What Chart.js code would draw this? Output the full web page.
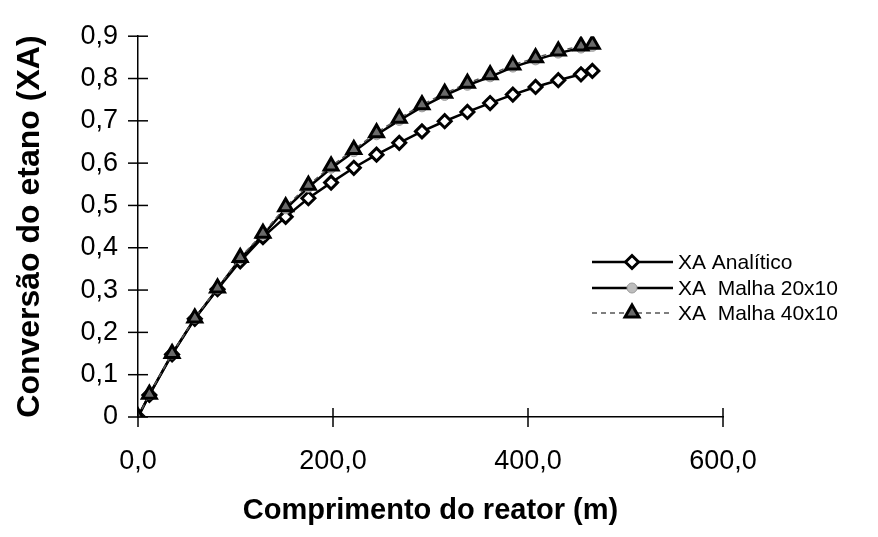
<!DOCTYPE html>
<html>
<head>
<meta charset="utf-8">
<script src="https://cdn.jsdelivr.net/npm/chart.js@4/dist/chart.umd.min.js"></script>
<style>
  html, body { margin: 0; padding: 0; background: #fff; }
  #wrap { width: 878px; height: 537px; position: relative; }
</style>
</head>
<body>
<div id="wrap"><canvas id="ConversaoChart"></canvas></div>
<script>
// comprimento do reator (m)
var Comprimento = [0, 11.65, 34.95, 58.25, 81.55, 104.85, 128.15, 151.45, 174.75, 198.05, 221.35,
    244.65, 267.95, 291.25, 314.55, 337.85, 361.15, 384.45, 407.75, 431.05, 454.35, 466];
var XA_Analitico = [0, 0.052, 0.148, 0.232, 0.302, 0.368, 0.425, 0.473, 0.517, 0.554, 0.589,
    0.620, 0.648, 0.675, 0.699, 0.721, 0.742, 0.762, 0.780, 0.796, 0.810, 0.818];
var XA_Malha20 = [0, 0.053, 0.149, 0.233, 0.303, 0.374, 0.430, 0.492, 0.543, 0.588, 0.627,
    0.667, 0.701, 0.733, 0.760, 0.784, 0.804, 0.827, 0.844, 0.860, 0.872, 0.876];
var XA_Malha40 = [0, 0.054, 0.150, 0.234, 0.305, 0.377, 0.434, 0.497, 0.548, 0.593, 0.632,
    0.672, 0.706, 0.738, 0.765, 0.789, 0.809, 0.832, 0.849, 0.865, 0.877, 0.881];
var XTicks = [0, 200, 400, 600];
var YTicks = [0, 0.1, 0.2, 0.3, 0.4, 0.5, 0.6, 0.7, 0.8, 0.9];

var FONT = "'Liberation Sans', Arial, sans-serif";

function pontos(ys) {
    return ys.map(function (y, i) { return { x: Comprimento[i], y: y }; });
}
function virgula(v, casas) {
    return v.toFixed(casas).replace('.', ',');
}

// ticks that cross the axis line, like the original
var crossTicks = {
    id: 'crossTicks',
    afterDatasetsDraw: function (chart) {
        var ctx = chart.ctx, xs = chart.scales.x, ys = chart.scales.y;
        var x0 = xs.getPixelForValue(0), y0 = ys.getPixelForValue(0);
        ctx.save();
        ctx.strokeStyle = '#000';
        ctx.lineWidth = 1.5;
        YTicks.forEach(function (v) {
            var p = ys.getPixelForValue(v);
            ctx.beginPath(); ctx.moveTo(x0 - 10, p); ctx.lineTo(x0 + 10, p); ctx.stroke();
        });
        XTicks.forEach(function (v) {
            var p = xs.getPixelForValue(v);
            ctx.beginPath(); ctx.moveTo(p, y0 - 9); ctx.lineTo(p, y0 + 10); ctx.stroke();
        });
        ctx.restore();
    }
};

// legend: line - marker - line, then text
var legendaLinha = {
    id: 'legendaLinha',
    afterDraw: function (chart) {
        var ctx = chart.ctx;
        var rows = [262, 288, 313];
        chart.data.datasets.forEach(function (ds, i) {
            var y = rows[i];
            ctx.save();
            ctx.strokeStyle = ds.borderColor;
            ctx.lineWidth = ds.borderWidth;
            ctx.setLineDash(ds.borderDash || []);
            ctx.beginPath(); ctx.moveTo(592, y); ctx.lineTo(673, y); ctx.stroke();
            ctx.setLineDash([]);
            ctx.fillStyle = ds.pointBackgroundColor;
            ctx.strokeStyle = ds.pointBorderColor;
            ctx.lineWidth = ds.pointBorderWidth;
            Chart.helpers.drawPoint(ctx, {
                pointStyle: ds.pointStyle, radius: ds.pointRadius, borderWidth: ds.pointBorderWidth, rotation: 0
            }, 632, y);
            ctx.fillStyle = '#000';
            ctx.font = '21px ' + FONT;
            ctx.textBaseline = 'middle';
            ctx.fillText(ds.label, 678, y + 1);
            ctx.restore();
        });
    }
};

var ctxChart = document.getElementById('ConversaoChart').getContext('2d');
new Chart(ctxChart, {
    type: 'line',
    data: {
        datasets: [
            {
                label: 'XA Analítico',
                data: pontos(XA_Analitico),
                borderColor: '#000',
                borderWidth: 2.5,
                pointStyle: 'rectRot',
                pointRadius: 6.5,
                pointBackgroundColor: '#fff',
                pointBorderColor: '#000',
                pointBorderWidth: 3,
                order: 3
            },
            {
                label: 'XA  Malha 20x10',
                data: pontos(XA_Malha20),
                borderColor: '#000',
                borderWidth: 2.5,
                pointStyle: 'circle',
                pointRadius: 5,
                pointBackgroundColor: '#bdbdbd',
                pointBorderColor: '#9a9a9a',
                pointBorderWidth: 1,
                order: 2
            },
            {
                label: 'XA  Malha 40x10',
                data: pontos(XA_Malha40),
                borderColor: '#555',
                borderWidth: 1.5,
                borderDash: [5, 4],
                pointStyle: 'triangle',
                pointRadius: 8,
                pointBackgroundColor: '#6a6a6a',
                pointBorderColor: '#000',
                pointBorderWidth: 3,
                order: 1
            }
        ]
    },
    options: {
        responsive: true,
        maintainAspectRatio: false,
        animation: false,
        layout: { padding: { left: 0, right: 155, top: 34, bottom: 0 } },
        plugins: {
            legend: { display: false },
            tooltip: { enabled: false }
        },
        scales: {
            x: {
                type: 'linear',
                min: 0, max: 600,
                afterFit: function (s) { s.height = 120; },
                afterBuildTicks: function (s) { s.ticks = XTicks.map(function (v) { return { value: v }; }); },
                grid: { display: false, drawTicks: false },
                border: { display: true, color: '#000', width: 1.5 },
                ticks: {
                    padding: 28,
                    color: '#000',
                    font: { family: FONT, size: 27 },
                    maxRotation: 0,
                    callback: function (v) { return virgula(v, 1); }
                },
                title: {
                    display: true,
                    text: 'Comprimento do reator (m)',
                    color: '#000',
                    font: { family: FONT, size: 29, weight: 'bold' },
                    padding: { top: 0, bottom: 9 }
                }
            },
            y: {
                min: 0, max: 0.9,
                afterFit: function (s) { s.width = 138; },
                afterBuildTicks: function (s) { s.ticks = YTicks.map(function (v) { return { value: v }; }); },
                grid: { display: false, drawTicks: false },
                border: { display: true, color: '#000', width: 1.5 },
                ticks: {
                    padding: 20,
                    color: '#000',
                    font: { family: FONT, size: 27 },
                    callback: function (v) { return v === 0 ? '0' : virgula(v, 1); }
                },
                title: {
                    display: true,
                    text: 'Conversão do etano (XA)',
                    color: '#000',
                    font: { family: FONT, size: 32, weight: 'bold' },
                    padding: { top: 11, bottom: 0 }
                }
            }
        }
    },
    plugins: [crossTicks, legendaLinha]
});
</script>
</body>
</html>
